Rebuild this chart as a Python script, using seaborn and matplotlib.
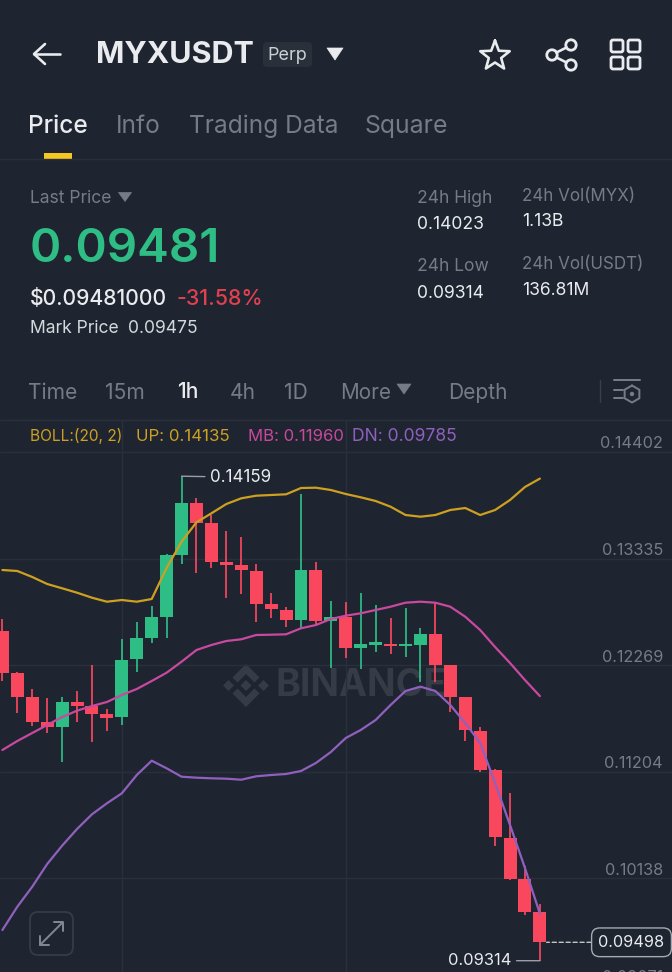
import numpy as np
import pandas as pd
import seaborn as sns
import matplotlib
matplotlib.use("Agg")
import matplotlib.pyplot as plt
from matplotlib.patches import FancyBboxPatch, Polygon, Rectangle, Circle
from matplotlib.transforms import ScaledTranslation

# ---------- data ----------
opens = [.12614,.12188,.11954,.11698,.11651,.11898,.11861,.11784,.11748,.12328,.12538,.12748,.13371,
         .13894,.13688,.13298,.13271,.13214,.12881,.12821,.12718,.13221,.12711,.12751,.12441,.12474,
         .12481,.12461,.12468,.12581,.12268,.11948,.11611,.11221,.10544,.10134,.09798]
closes = [.12188,.11954,.11698,.11651,.11898,.11861,.11784,.11744,.12318,.12538,.12748,.13371,.13894,
          .13694,.13301,.13274,.13218,.12881,.12828,.12718,.13221,.12711,.12754,.12444,.12478,.12498,
          .12461,.12481,.12581,.12268,.11948,.11621,.11221,.10554,.10134,.09798,.09498]
highs = [.12731,.12204,.12031,.11941,.11948,.12014,.12271,.11828,.12531,.12704,.12864,.13378,.14159,
         .13938,.13771,.13611,.13554,.13278,.12988,.12854,.13981,.13298,.12911,.12898,.12988,.12871,
         .12738,.12838,.12638,.12898,.12268,.11954,.11654,.11228,.10994,.10264,.09881]
lows = [.12114,.11794,.11661,.11588,.11304,.11701,.11498,.11608,.11671,.12204,.12494,.12538,.13281,
        .13194,.13244,.12938,.12984,.12704,.12741,.12654,.12638,.12671,.12244,.12344,.12231,.12398,
        .12381,.12348,.12098,.12098,.11798,.11514,.11204,.10461,.10121,.09771,.09314]
boll_up = [.13221,.13211,.13151,.13081,.13038,.12994,.12944,.12904,.12921,.12904,.12931,.13241,.13504,
           .13698,.13788,.13881,.13938,.13964,.13971,.13978,.14041,.14044,.14021,.13981,.13948,.13911,
           .13854,.13771,.13754,.13771,.13821,.13841,.13771,.13821,.13921,.14051,.14135]
boll_mb = [.11421,.11511,.11591,.11671,.11751,.11814,.11861,.11901,.11971,.12031,.12111,.12194,.12304,
           .12421,.12471,.12511,.12528,.12571,.12574,.12578,.12638,.12671,.12731,.12764,.12788,.12821,
           .12854,.12894,.12904,.12894,.12854,.12754,.12621,.12451,.12291,.12121,.11960]
boll_dn = [.09621,.09854,.10054,.10281,.10464,.10631,.10778,.10888,.10988,.11171,.11314,.11238,.11154,
           .11144,.11138,.11134,.11124,.11158,.11171,.11181,.11211,.11291,.11401,.11541,.11621,.11721,
           .11871,.12011,.12054,.12011,.11871,.11691,.11491,.11091,.10671,.10241,.09785]
tick_prices = [.14402, .13335, .12269, .11204, .10138]
tick_labels = ["0.14402", "0.13335", "0.12269", "0.11204", "0.10138"]
hidden_price_label = "0.09071"
vgrid_idx = [8, 23]
high_price, low_price, last_price = .14159, .09314, .09498

BG = "#1E2530"
GRID = "#2A303B"
GREEN = "#2EBD85"
RED = "#F9475E"
YEL = "#CDA021"
MAG = "#C8499F"
PUR = "#9060BE"
GREY = "#757C88"
WHITE = "#E9EBEE"

sns.set_theme(style="dark", rc={"figure.facecolor": BG, "axes.facecolor": BG, "savefig.facecolor": BG})
plt.rcParams["font.family"] = ["Inter", "DejaVu Sans"]

W, H = 672, 972
fig = plt.figure(figsize=(W / 100, H / 100), dpi=100)

# ---------- UI layer (pixel coordinates) ----------
ui = fig.add_axes([0, 0, 1, 1], zorder=0)
ui.set_xlim(0, W)
ui.set_ylim(H, 0)
ui.axis("off")

def T(x, y, s, size, color=GREY, weight="normal", ha="left", **kw):
    # small optical correction: Inter sits high when centred on its bounding box
    return ui.text(x, y + size * 0.075, s, fontsize=size * 0.72, color=color, fontweight=weight, ha=ha, va="center", **kw)

def tri(cx, cy, w, h, color):
    ui.add_patch(Polygon([(cx - w / 2, cy - h / 2), (cx + w / 2, cy - h / 2), (cx, cy + h / 2)], closed=True, fc=color, ec=color, lw=0.5, joinstyle="round"))

def stroke(xs, ys, color=WHITE, lw=2.6):
    ui.plot(xs, ys, color=color, lw=lw * 0.72, solid_capstyle="round", solid_joinstyle="round")

# header
stroke([60, 34], [54, 54]); stroke([45, 34, 45], [44, 54, 64])
T(96, 53, "MYXUSDT", 30.5, WHITE, "bold")
ui.add_patch(FancyBboxPatch((263, 42), 49, 25, boxstyle="round,pad=0,rounding_size=4", fc="#2A303A", ec="none"))
T(287.5, 54, "Perp", 18, "#CDD0D5", ha="center")
tri(335, 54, 16, 12, WHITE)
ang = np.linspace(np.pi / 2, np.pi / 2 + 2 * np.pi, 11)
rad = np.array([15.5, 6.5] * 5 + [15.5])
stroke(495 + rad * np.cos(ang), 56 - rad * np.sin(ang))
for cx, cy in [(552, 55), (571, 45), (571, 65)]:
    ui.add_patch(Circle((cx, cy), 5.2, fc="none", ec=WHITE, lw=2.0))
stroke([556.5, 566.5], [52.5, 47.5]); stroke([556.5, 566.5], [57.5, 62.5])
for x0 in (611, 628):
    for y0 in (40, 57):
        ui.add_patch(FancyBboxPatch((x0, y0), 12, 12, boxstyle="round,pad=0,rounding_size=2", fc="none", ec=WHITE, lw=2.0))

# tabs
T(28, 124.5, "Price", 24.5, WHITE, "medium")
T(116, 124.5, "Info", 24.5); T(189, 124, "Trading Data", 24.5); T(365, 124.5, "Square", 24.8)
ui.add_patch(Rectangle((44, 153), 28, 6, fc="#F5C723", ec="none"))
ui.plot([0, W], [159.5, 159.5], color=GRID, lw=1)

# price block
T(30, 246.5, "0.09481", 47.5, GREEN, "semibold")
T(30, 197, "Last Price", 17.5); tri(125, 197, 13, 9, GREY)
T(30, 297, "$0.09481000", 21.2, WHITE, "medium")
T(177, 297, "-31.58%", 21.4, "#E0404F", "medium")
T(30, 327, "Mark Price", 17.5, "#D5D8DC"); T(128, 327, "0.09475", 17.5, "#D5D8DC")
T(417, 197, "24h High", 17.5); T(417, 223.5, "0.14023", 17.5, WHITE)
T(417, 265.5, "24h Low", 17.5); T(417, 292, "0.09314", 17.5, WHITE)
T(522, 195, "24h Vol(MYX)", 17); T(522, 220.5, "1.13B", 17.5, WHITE)
T(522, 263, "24h Vol(USDT)", 17); T(522, 289.5, "136.81M", 17.5, WHITE)

# interval row
T(28, 391, "Time", 21); T(105, 391, "15m", 21); T(177, 390, "1h", 21, WHITE, "medium")
T(230, 391, "4h", 21); T(284, 391, "1D", 21); T(340, 391, "More", 20.7); tri(404, 389, 14, 10, GREY)
T(448, 391, "Depth", 21)
ui.plot([600, 600], [380, 402], color="#3A404B", lw=1)
stroke([614, 640], [380, 380], GREY, 2); stroke([614, 623], [390, 390], GREY, 2); stroke([614, 623], [398, 398], GREY, 2)
hexa = np.linspace(np.pi / 2, np.pi / 2 + 2 * np.pi, 7)
stroke(632 + 8.5 * np.cos(hexa), 394 - 8.5 * np.sin(hexa), GREY, 2)
ui.add_patch(Circle((632, 394), 2.2, fc=GREY, ec="none"))
ui.plot([0, W], [419.5, 419.5], color=GRID, lw=1)

# legend row
T(30, 435, "BOLL:(20, 2)", 15.5, YEL); T(136, 435, "UP: 0.14135", 16.8, YEL)
T(248, 435, "MB: 0.11960", 16.7, MAG); T(352, 435, "DN: 0.09785", 17.5, PUR)

# watermark
WM = "#353C47"
for cx, cy, r in [(228.5, 685.5, 5.5), (263.5, 685.5, 5.5), (246, 685.5, 5.5)]:
    ui.add_patch(Polygon([(cx, cy - r), (cx + r, cy), (cx, cy + r), (cx - r, cy)], closed=True, fc=WM, ec="none"))
chev = np.array([(0, -21.5), (13.5, -8), (8.5, -3), (0, -11.5), (-8.5, -3), (-13.5, -8)])
for sgn in (1, -1):
    ui.add_patch(Polygon(np.c_[246 + chev[:, 0], 685.5 + sgn * chev[:, 1]], closed=True, fc=WM, ec="none"))
T(276, 683, "BINANCE", 37.5, WM, "bold")

# expand button
ui.add_patch(FancyBboxPatch((30, 912), 43, 43, boxstyle="round,pad=0,rounding_size=8", fc="none", ec="#353B46", lw=1.4))
stroke([40, 62], [945, 923], "#80868F", 2)
stroke([54, 63, 63], [922, 922, 931], "#80868F", 2); stroke([40, 40, 49], [936, 945, 945], "#80868F", 2)

# ---------- chart ----------
step, x0 = 14.93, 2.4
y_top = 0.18921 - 420 / 1e4
y_bot = 0.18921 - 972 / 1e4
ax = fig.add_axes([0, 0, 1, (972 - 420) / 972], zorder=1)
ax.patch.set_alpha(0)
ax.set_xlim((0 - x0) / step, (W - x0) / step)
ax.set_ylim(y_bot, y_top)
for s in ax.spines.values():
    s.set_visible(False)

idx = np.arange(len(opens))
df = pd.DataFrame({"idx": idx, "open": opens, "close": closes, "high": highs, "low": lows,
                   "UP": boll_up, "MB": boll_mb, "DN": boll_dn})
up = df.close >= df.open
cols = np.where(up, GREEN, RED)

ax.vlines(df.idx, df.low, df.high, colors=cols, lw=1.25, zorder=3)
ax.bar(df.idx, (df.close - df.open).abs(), bottom=df[["open", "close"]].min(axis=1), width=0.87,
       color=cols, linewidth=0, zorder=4)
long_df = df.melt(id_vars="idx", value_vars=["UP", "MB", "DN"], var_name="band", value_name="price")
sns.lineplot(data=long_df, x="idx", y="price", hue="band", palette={"UP": YEL, "MB": MAG, "DN": PUR},
             lw=1.6, ax=ax, legend=False, zorder=5, errorbar=None, sort=False)
ax.set_xlabel(""); ax.set_ylabel("")

ax.set_xticks(vgrid_idx); ax.set_xticklabels(["", ""])
ax.yaxis.tick_right()
ax.set_yticks(tick_prices); ax.set_yticklabels(tick_labels)
ax.tick_params(axis="both", length=0)
ax.tick_params(axis="y", pad=0)
ax.grid(True, color=GRID, lw=1, zorder=0)
ax.set_axisbelow(True)
for lab in ax.get_yticklabels():
    lab.set_fontsize(16.3 * 0.72); lab.set_color(GREY); lab.set_ha("right"); lab.set_va("center")
    lab.set_transform(lab.get_transform() + ScaledTranslation(-9 / 100, 8 / 100, fig.dpi_scale_trans))
ax.annotate(hidden_price_label, xy=(1, tick_prices[-1] - 0.01067), xycoords=("axes fraction", "data"),
            xytext=(-9, 8), textcoords="offset pixels", fontsize=16.3 * 0.72, color=GREY, ha="right", va="center",
            annotation_clip=False)

# high / low / last markers
ax.annotate(f"{high_price:.5f}", xy=(12, high_price), xytext=(28, -1), textcoords="offset pixels",
            fontsize=17 * 0.72, color=WHITE, ha="left", va="center",
            arrowprops=dict(arrowstyle="-", color="#9A9FA6", lw=1, shrinkA=1, shrinkB=0))
ax.annotate(f"{low_price:.5f}", xy=(36, low_price), xytext=(-28, 0), textcoords="offset pixels",
            fontsize=16.5 * 0.72, color=WHITE, ha="right", va="center",
            arrowprops=dict(arrowstyle="-", color="#9A9FA6", lw=1, shrinkA=1, shrinkB=0))
ax.annotate(f"{last_price:.5f}", xy=(36.45, last_price), xytext=(591.5 + 40 - (x0 + step * 36.45), 0),
            textcoords="offset pixels", fontsize=16.3 * 0.72, color=WHITE, ha="center", va="center",
            bbox=dict(boxstyle="round,pad=0.42,rounding_size=0.5", fc=BG, ec="#A5AAB0", lw=1),
            arrowprops=dict(arrowstyle="-", color="#C0C4C8", lw=1, ls=(0, (3, 2)), shrinkA=0, shrinkB=0))

fig.savefig("out.png", dpi=100, facecolor=BG)
